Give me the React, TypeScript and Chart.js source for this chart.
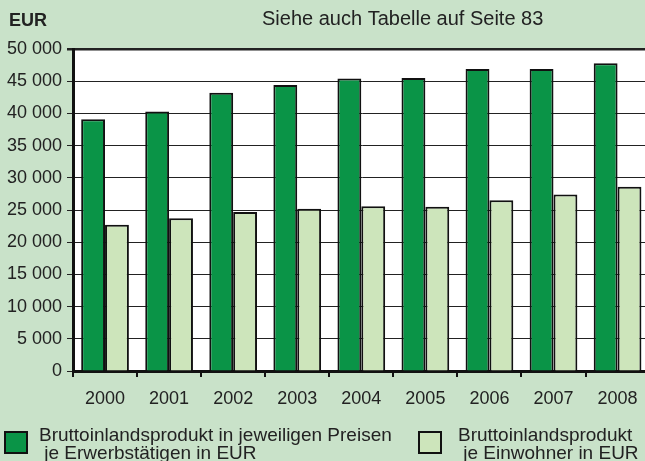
import React, { useEffect, useRef } from "react";
import { Chart, registerables } from "chart.js";

Chart.register(...registerables);

const years = ["2000", "2001", "2002", "2003", "2004", "2005", "2006", "2007", "2008"];
const bipJeErwerbstaetigen = [39100, 40300, 43200, 44400, 45400, 45500, 46900, 46900, 47800];
const bipJeEinwohner = [22700, 23700, 24700, 25200, 25600, 25500, 26500, 27400, 28600];
const legendLabels = [
  ["Bruttoinlandsprodukt in jeweiligen Preisen", " je Erwerbstätigen in EUR"],
  ["Bruttoinlandsprodukt", " je Einwohner in EUR"],
];
const unitLabel = "EUR";
const noteLabel = "Siehe auch Tabelle auf Seite 83";

const BG = "#c9e2c9";
const DARK = "#0a9447";
const LIGHT = "#cde5bb";
const FONT = "'Liberation Sans', Arial, sans-serif";

export default function App() {
  const ref = useRef<HTMLCanvasElement | null>(null);
  useEffect(() => {
    const canvas = ref.current!;
    const overlay = {
      id: "overlay",
      beforeDraw(chart: any) {
        const c = chart.ctx;
        c.save();
        c.fillStyle = BG;
        c.fillRect(0, 0, chart.width, chart.height);
        const a = chart.chartArea;
        c.fillStyle = "#ffffff";
        c.fillRect(a.left, a.top, a.right - a.left, a.bottom - a.top);
        c.restore();
      },
      afterDraw(chart: any) {
        const c = chart.ctx;
        c.save();
        c.fillStyle = "#222";
        c.textBaseline = "alphabetic";
        c.font = `bold 18px ${FONT}`;
        c.fillText(unitLabel, 9, 26);
        c.font = `20px ${FONT}`;
        c.fillText(noteLabel, 262, 25);
        const items = [
          { x: 5, tx: 39, color: DARK, lines: legendLabels[0] },
          { x: 419, tx: 458, color: LIGHT, lines: legendLabels[1] },
        ];
        items.forEach((it) => {
          c.fillStyle = it.color;
          c.fillRect(it.x, 432, 22, 21);
          c.strokeStyle = "#111";
          c.lineWidth = 2;
          c.strokeRect(it.x, 432, 22, 21);
          c.fillStyle = "#222";
          c.font = `19px ${FONT}`;
          c.fillText(it.lines[0], it.tx, 441);
          c.fillText(it.lines[1], it.tx, 459);
        });
        c.restore();
      },
    };
    const chart = new Chart(canvas, {
      type: "bar",
      data: {
        labels: years,
        datasets: [
          {
            label: legendLabels[0].join(""),
            data: bipJeErwerbstaetigen,
            backgroundColor: DARK,
            borderColor: "#111",
            borderWidth: 2,
            categoryPercentage: 0.745,
            barPercentage: 1,
          },
          {
            label: legendLabels[1].join(""),
            data: bipJeEinwohner,
            backgroundColor: LIGHT,
            borderColor: "#111",
            borderWidth: 2,
            categoryPercentage: 0.745,
            barPercentage: 1,
          },
        ],
      },
      options: {
        responsive: false,
        animation: false,
        devicePixelRatio: 1,
        layout: { padding: { top: 49, right: 10.4, left: 0, bottom: 0 } },
        plugins: { legend: { display: false }, tooltip: { enabled: false } },
        scales: {
          x: {
            offset: true,
            grid: {
              offset: true,
              drawOnChartArea: false,
              color: "#111",
              lineWidth: 2,
              tickLength: 6,
            },
            border: { color: "#111", width: 3 },
            ticks: { color: "#222", font: { family: FONT, size: 18 }, padding: 11, maxRotation: 0 },
            afterFit: (s: any) => {
              s.height = 90;
            },
          },
          y: {
            min: 0,
            max: 50000,
            grid: {
              color: "#222",
              lineWidth: (ctx: any) => (ctx.tick && ctx.tick.value === 50000 ? 2.5 : 1),
              tickLength: 6,
            },
            border: { color: "#111", width: 3 },
            ticks: {
              stepSize: 5000,
              color: "#222",
              font: { family: FONT, size: 18 },
              padding: 5,
              callback: (v: any) => {
                const n = Number(v);
                if (n < 1000) return String(n);
                const th = Math.floor(n / 1000);
                const rest = String(n % 1000).padStart(3, "0");
                return `${th} ${rest}`;
              },
            },
            afterFit: (s: any) => {
              s.width = 73;
            },
          },
        },
      },
      plugins: [overlay],
    });
    return () => chart.destroy();
  }, []);
  return (
    <div style={{ position: "fixed", left: 0, top: 0, width: 645, height: 461, overflow: "hidden", background: BG }}>
      <canvas ref={ref} width={660} height={461} style={{ width: 660, height: 461, display: "block" }} />
    </div>
  );
}
